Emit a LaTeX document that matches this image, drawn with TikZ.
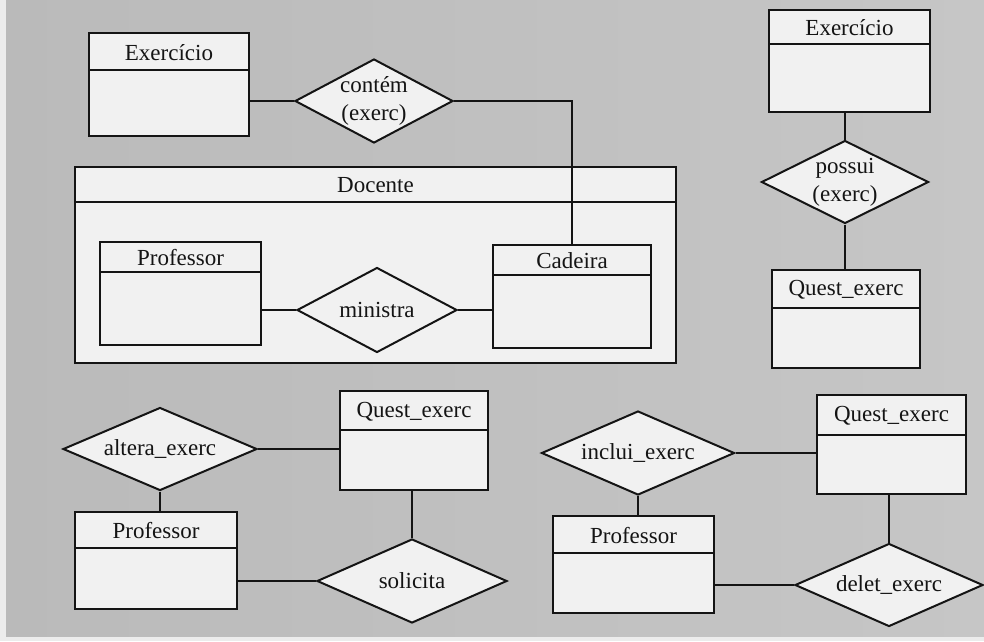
\documentclass[tikz,border=0pt]{standalone}
\usepackage{fontspec}
\setmainfont{Liberation Serif}
\usetikzlibrary{shapes.geometric}

\definecolor{bgmid}{RGB}{208,208,208}
\definecolor{bgside}{RGB}{186,186,186}
\definecolor{bgright}{RGB}{198,198,198}
\definecolor{margin}{RGB}{236,236,236}
\definecolor{boxfill}{RGB}{241,241,241}
\definecolor{ink}{RGB}{20,20,20}

\tikzset{
  ln/.style={draw=ink, line width=2pt},
  entbox/.style={ln, fill=boxfill, rectangle, inner sep=0pt},
  relbox/.style={ln, fill=boxfill, diamond, inner sep=0pt},
  txt/.style={font=\fontsize{23}{28}\selectfont, text=ink, inner sep=0pt, align=center},
}

% entity box: name, x1, y1, x2, y2, header line y, title
\newcommand\entity[7]{%
  \node[entbox, minimum width={#4-#2}, minimum height={#5-#3}] (#1) at ({(#2+#4)/2},{(#3+#5)/2}) {};
  \coordinate (#1-h) at (0,#6);
  \draw[ln] (#1.west |- #1-h) -- (#1.east |- #1-h);
  \node[txt] (#1-t) at ({(#2+#4)/2},{(#3+#6)/2+1}) {#7};
}

% relationship diamond: name, centre x, centre y, width, height, label
\newcommand\relation[6]{%
  \node[relbox, minimum width=#4, minimum height=#5] (#1) at (#2,#3) {};
  \node[txt] (#1-t) at (#1) {#6};
}

\begin{document}
\begin{tikzpicture}[x=1pt, y=-1pt]
  % page and background
  \fill[margin] (0,0) rectangle (984,641);
  \shade[left color=bgside, middle color=bgmid, right color=bgright] (6,0) rectangle (984,636);
  \useasboundingbox (0,0) rectangle (984,641);

  % top left: Exercício contém Cadeira, inside Docente
  \entity{doc}{75}{167}{676}{363}{202}{Docente}
  \entity{exa}{89}{33}{249}{136}{70}{Exercício}
  \entity{profa}{100}{242}{261}{345}{272}{Professor}
  \entity{cad}{493}{245}{651}{348}{275}{Cadeira}
  \relation{contem}{374}{101}{158}{84}{contém\\(exerc)}
  \relation{ministra}{377}{310}{160}{85}{ministra}

  \draw[ln] (contem.west) -- (contem.west -| exa.east);
  \draw[ln] (contem.east) -| (cad.north);
  \draw[ln] (ministra.west) -- (ministra.west -| profa.east);
  \draw[ln] (ministra.east) -- (ministra.east -| cad.west);

  % top right: Exercício possui Quest_exerc
  \entity{exb}{769}{10}{930}{112}{44}{Exercício}
  \entity{qea}{772}{270}{920}{368}{308}{Quest\_exerc}
  \relation{possui}{845}{182}{167}{83}{possui\\(exerc)}

  \draw[ln] (possui.north) -- (possui.north |- exb.south);
  \draw[ln] (possui.south) -- (possui.south |- qea.north);

  % bottom left: altera_exerc / solicita
  \entity{qeb}{340}{391}{488}{490}{430}{Quest\_exerc}
  \entity{profb}{75}{512}{237}{609}{548}{Professor}
  \relation{altera}{160}{449}{194}{83}{altera\_exerc}
  \relation{solicita}{412}{581}{190}{84}{solicita}

  \draw[ln] (altera.east) -- (altera.east -| qeb.west);
  \draw[ln] (altera.south) -- (altera.south |- profb.north);
  \draw[ln] (solicita.north) -- (solicita.north |- qeb.south);
  \draw[ln] (solicita.west) -- (solicita.west -| profb.east);

  % bottom right: inclui_exerc / delet_exerc
  \entity{qec}{817}{395}{966}{494}{435}{Quest\_exerc}
  \entity{profc}{553}{516}{714}{613}{553}{Professor}
  \relation{inclui}{638}{453}{193}{84}{inclui\_exerc}
  \relation{delet}{889}{585}{188}{83}{delet\_exerc}

  \draw[ln] (inclui.east) -- (inclui.east -| qec.west);
  \draw[ln] (inclui.south) -- (inclui.south |- profc.north);
  \draw[ln] (delet.north) -- (delet.north |- qec.south);
  \draw[ln] (delet.west) -- (delet.west -| profc.east);
\end{tikzpicture}
\end{document}
